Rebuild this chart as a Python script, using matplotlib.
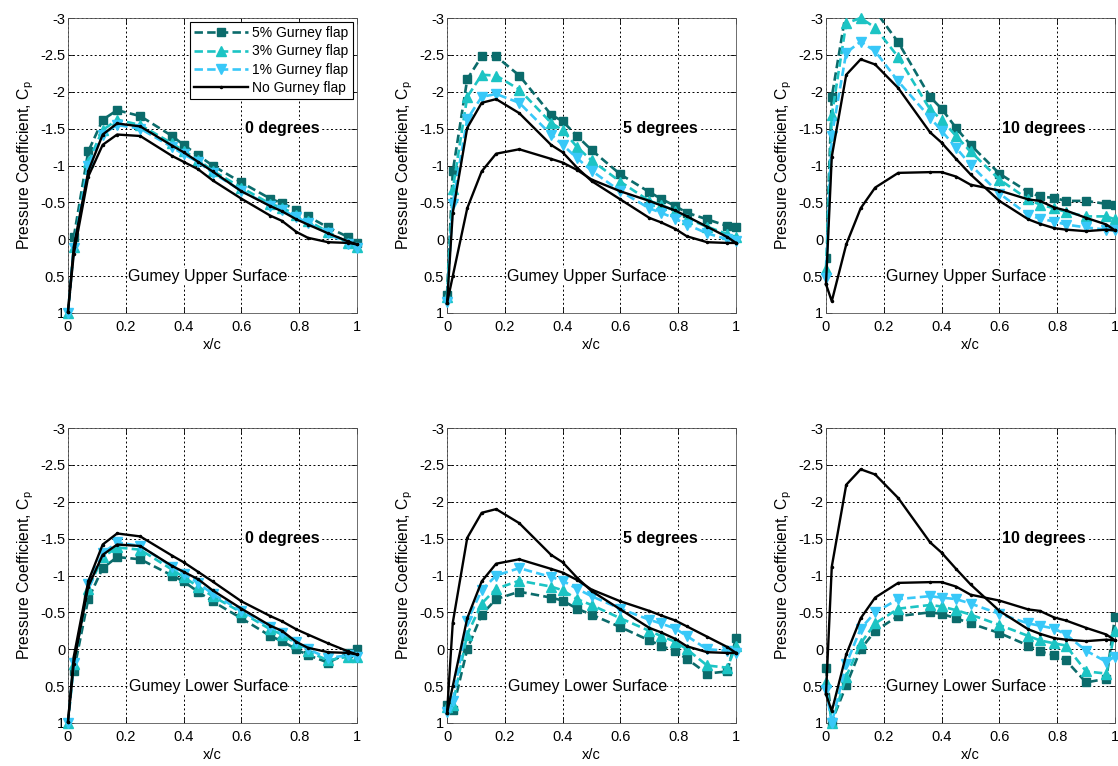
import numpy as np
import matplotlib
from matplotlib import pyplot as plt

matplotlib.use("Agg")

plt.rcParams['font.family'] = ['Liberation Sans', 'DejaVu Sans']
plt.rcParams['mathtext.default'] = 'regular'

# chordwise tap positions
X = [0, 0.02, 0.07, 0.12, 0.17, 0.25, 0.36, 0.40, 0.45, 0.50,
     0.60, 0.70, 0.74, 0.79, 0.83, 0.90, 0.97, 1.00]

ANGLES = [0, 5, 10]
SERIES = ["5% Gurney flap", "3% Gurney flap", "1% Gurney flap", "No Gurney flap"]
SURFACE_TEXT = [["Gumey Upper Surface", "Gumey Upper Surface", "Gurney Upper Surface"],
                ["Gumey Lower Surface", "Gumey Lower Surface", "Gurney Lower Surface"]]

# No Gurney flap (both surfaces, same in upper and lower panels)
noflap_a_0 = [0.98, 0.1, -0.92, -1.42, -1.57, -1.53, -1.27, -1.18, -1.05, -0.92,
              -0.65, -0.45, -0.38, -0.27, -0.2, -0.08, 0.03, 0.07]
noflap_b_0 = [0.98, 0.2, -0.85, -1.28, -1.42, -1.4, -1.13, -1.05, -0.95, -0.8,
              -0.55, -0.32, -0.25, -0.1, -0.02, 0.04, 0.05, 0.07]
noflap_a_5 = [0.87, -0.36, -1.51, -1.85, -1.90, -1.71, -1.28, -1.18, -0.97, -0.79,
              -0.54, -0.29, -0.23, -0.14, -0.04, 0.04, 0.05, 0.05]
noflap_b_5 = [0.87, 0.5, -0.42, -0.92, -1.16, -1.22, -1.09, -1.04, -0.94, -0.81,
              -0.65, -0.52, -0.46, -0.39, -0.31, -0.17, -0.03, 0.05]
noflap_a_10 = [0.61, -1.12, -2.23, -2.44, -2.37, -2.05, -1.45, -1.31, -1.09, -0.88,
               -0.52, -0.27, -0.21, -0.15, -0.13, -0.11, -0.13, -0.12]
noflap_b_10 = [0.61, 0.84, 0.07, -0.42, -0.70, -0.90, -0.91, -0.91, -0.85, -0.74,
               -0.66, -0.54, -0.52, -0.43, -0.39, -0.29, -0.2, -0.12]

# upper surface with flaps
up5_0 = [np.nan, -0.03, -1.19, -1.62, -1.75, -1.67, -1.40, -1.28, -1.14, -1.0,
         -0.77, -0.55, -0.49, -0.40, -0.31, -0.16, -0.03, 0.05]
up3_0 = [1.0, 0.1, -1.05, -1.48, -1.62, -1.55, -1.30, -1.20, -1.08, -0.93,
         -0.70, -0.48, -0.43, -0.33, -0.25, -0.10, 0.05, 0.10]
up1_0 = [1.0, 0.12, -1.0, -1.42, -1.55, -1.5, -1.25, -1.15, -1.05, -0.9,
         -0.66, -0.45, -0.40, -0.30, -0.22, -0.08, 0.07, 0.12]
up5_5 = [0.75, -0.92, -2.17, -2.48, -2.48, -2.22, -1.69, -1.60, -1.40, -1.21,
         -0.88, -0.64, -0.55, -0.45, -0.36, -0.27, -0.18, -0.16]
up3_5 = [0.78, -0.68, -1.93, -2.23, -2.22, -2.03, -1.58, -1.48, -1.25, -1.07,
         -0.78, -0.52, -0.47, -0.38, -0.28, -0.17, -0.07, -0.03]
up1_5 = [0.85, -0.48, -1.63, -1.93, -1.97, -1.85, -1.42, -1.28, -1.10, -0.93,
         -0.65, -0.42, -0.36, -0.28, -0.20, -0.08, 0.0, 0.03]
up5_10 = [0.25, -1.93, -3.1, -3.25, -3.1, -2.67, -1.93, -1.77, -1.51, -1.28,
          -0.89, -0.64, -0.58, -0.56, -0.52, -0.52, -0.48, -0.47]
up3_10 = [0.4, -1.68, -2.93, -3.0, -2.87, -2.47, -1.76, -1.62, -1.40, -1.19,
          -0.81, -0.54, -0.47, -0.42, -0.37, -0.31, -0.31, -0.27]
up1_10 = [0.52, -1.40, -2.53, -2.68, -2.55, -2.14, -1.65, -1.47, -1.24, -1.01,
          -0.62, -0.33, -0.28, -0.24, -0.2, -0.16, -0.13, -0.12]

# lower surface with flaps
lo5_0 = [np.nan, 0.3, -0.68, -1.1, -1.25, -1.22, -1.0, -0.92, -0.78, -0.65,
         -0.42, -0.18, -0.11, 0.0, 0.08, 0.18, 0.05, 0.0]
lo3_0 = [1.0, 0.2, -0.82, -1.25, -1.38, -1.35, -1.08, -0.98, -0.85, -0.72,
         -0.50, -0.27, -0.20, -0.08, 0.03, 0.15, 0.1, 0.1]
lo1_0 = [1.0, 0.18, -0.88, -1.3, -1.45, -1.4, -1.12, -1.02, -0.9, -0.75,
         -0.52, -0.3, -0.22, -0.1, 0.0, 0.12, 0.08, 0.1]
lo5_5 = [0.75, 0.82, 0.0, -0.47, -0.68, -0.78, -0.70, -0.66, -0.55, -0.47,
         -0.30, -0.12, -0.05, 0.03, 0.13, 0.33, 0.30, -0.15]
lo3_5 = [0.78, 0.75, -0.2, -0.62, -0.82, -0.93, -0.85, -0.80, -0.68, -0.60,
         -0.42, -0.25, -0.18, -0.10, 0.0, 0.22, 0.25, -0.05]
lo1_5 = [0.85, 0.7, -0.38, -0.80, -1.0, -1.1, -0.98, -0.93, -0.82, -0.72,
         -0.55, -0.40, -0.35, -0.28, -0.18, 0.0, 0.02, 0.05]
lo5_10 = [0.25, 0.98, 0.49, 0.0, -0.25, -0.45, -0.5, -0.48, -0.42, -0.35,
          -0.22, -0.05, 0.03, 0.08, 0.15, 0.45, 0.40, -0.44]
lo3_10 = [0.45, 1.0, 0.37, -0.08, -0.35, -0.55, -0.6, -0.58, -0.53, -0.47,
          -0.33, -0.18, -0.12, -0.08, -0.05, 0.3, 0.33, -0.25]
lo1_10 = [0.55, 1.0, 0.2, -0.28, -0.5, -0.68, -0.72, -0.70, -0.68, -0.62,
          -0.48, -0.35, -0.32, -0.28, -0.2, 0.02, 0.17, 0.1]

UPPER = {0: (up5_0, up3_0, up1_0), 5: (up5_5, up3_5, up1_5), 10: (up5_10, up3_10, up1_10)}
LOWER = {0: (lo5_0, lo3_0, lo1_0), 5: (lo5_5, lo3_5, lo1_5), 10: (lo5_10, lo3_10, lo1_10)}
NOFLAP = {0: (noflap_a_0, noflap_b_0), 5: (noflap_a_5, noflap_b_5), 10: (noflap_a_10, noflap_b_10)}

COLORS = ["#0b6b6b", "#1cc4c4", "#38c8f8"]
MARKERS = ["s", "^", "v"]
MSIZES = [6, 7.5, 7.5]

fig = plt.figure(figsize=(11.18, 7.66), dpi=100)

lefts = [68, 447, 826]
tops = [18, 428]
W, H = 289, 295

for row in range(2):
    for col, ang in enumerate(ANGLES):
        ax = fig.add_axes([lefts[col] / 1118, 1 - (tops[row] + H) / 766, W / 1118, H / 766])
        flaps = UPPER[ang] if row == 0 else LOWER[ang]
        for i in range(3):
            # let markers at the edge spill over unless the curve leaves the axes
            clip = bool(np.nanmin(flaps[i]) < -3)
            ax.plot(X, flaps[i], color=COLORS[i], ls="--", dashes=(3.2, 1.6), lw=1.9,
                    marker=MARKERS[i], ms=MSIZES[i], mec=COLORS[i], label=SERIES[i],
                    zorder=3, clip_on=clip)
        a, b = NOFLAP[ang]
        ax.plot(X, a, color="black", lw=1.7, marker=".", ms=3, label=SERIES[3], zorder=4, clip_on=False)
        ax.plot(X, b, color="black", lw=1.7, marker=".", ms=3, zorder=4, clip_on=False)

        ax.set_xlim(0, 1)
        ax.set_ylim(1, -3)
        ax.set_xticks([0, 0.2, 0.4, 0.6, 0.8, 1])
        ax.set_xticklabels(["0", "0.2", "0.4", "0.6", "0.8", "1"])
        ax.set_yticks([-3, -2.5, -2, -1.5, -1, -0.5, 0, 0.5, 1])
        ax.set_yticklabels(["-3", "-2.5", "-2", "-1.5", "-1", "-0.5", "0", "0.5", "1"])
        ax.tick_params(direction="in", top=True, right=True, labelsize=10.5, length=4, width=0.6)
        ax.tick_params(axis="x", pad=5)
        ax.tick_params(axis="y", pad=2)
        ax.grid(True, color="black", ls=(0, (2, 2.5)), lw=0.7)
        for s in ax.spines.values():
            s.set_linewidth(0.6)
            s.set_color("#555555")
        ax.set_xlabel("x/c", fontsize=10.5, labelpad=3)
        ax.set_ylabel("Pressure Coefficient, C$_p$", fontsize=11.3, labelpad=3)

        ax.text(0.74 if ang < 10 else 0.755, -1.5, f"{ang} degrees", fontsize=11.5, weight="bold",
                ha="center", va="center", zorder=5,
                bbox=dict(facecolor="white", edgecolor="none", pad=0.5))
        ax.text(0.485, 0.5, SURFACE_TEXT[row][col], fontsize=11.5, ha="center", va="center",
                zorder=2, bbox=dict(facecolor="white", edgecolor="none", pad=0.5))

        if row == 0 and col == 0:
            leg = ax.legend(loc="upper right", fontsize=10, handlelength=3.9, borderaxespad=0.3,
                            labelspacing=0.3, handletextpad=0.3, borderpad=0.3,
                            fancybox=False, framealpha=1, edgecolor="black")
            leg.get_frame().set_linewidth(0.8)
            leg.set_zorder(6)

fig.savefig("out.png", dpi=100)
